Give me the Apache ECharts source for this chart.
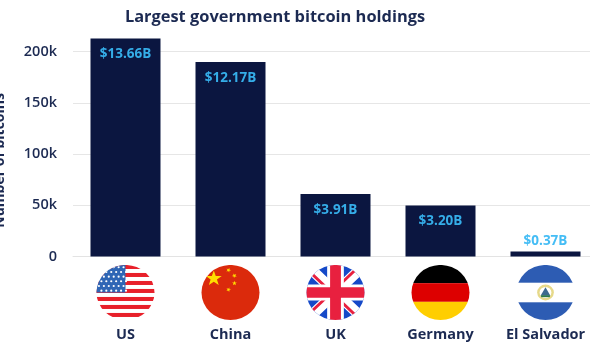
<!DOCTYPE html>
<html>
<head>
<meta charset="utf-8">
<script src="https://cdn.jsdelivr.net/npm/echarts@6/dist/echarts.min.js"></script>
<style>
html, body { margin: 0; padding: 0; background: #fff; overflow: hidden; }
#chart { width: 590px; height: 354px; }
</style>
</head>
<body>
<div id="chart"></div>
<script>
var categories = ['US', 'China', 'UK', 'Germany', 'El Salvador'];
var holdings = [212700, 189700, 61000, 49800, 5000];
var valueLabels = ['$13.66B', '$12.17B', '$3.91B', '$3.20B', '$0.37B'];
var yTickLabels = ['0', '50k', '100k', '150k', '200k'];

var navy = '#0b1640';
var textColor = '#1c2a52';

// small svg flags, used as backgrounds of the axis labels
function svgUrl(body) {
	var svg = '<svg xmlns="http://www.w3.org/2000/svg" xmlns:xlink="http://www.w3.org/1999/xlink" width="236" height="224" viewBox="0 0 60 60" preserveAspectRatio="none">' +
		'<defs><clipPath id="c"><circle cx="30" cy="30" r="29.5"/></clipPath></defs>' +
		'<g clip-path="url(#c)">' + body + '</g></svg>';
	return 'data:image/svg+xml;charset=utf-8,' + encodeURIComponent(svg);
}
function star(x, y, r, rot) {
	var pts = [];
	for (var i = 0; i < 10; i++) {
		var a = (rot + i * 36 - 90) * Math.PI / 180;
		var d = i % 2 ? r * 0.4 : r;
		pts.push((x + d * Math.cos(a)).toFixed(2) + ',' + (y + d * Math.sin(a)).toFixed(2));
	}
	return '<polygon fill="#ffde00" points="' + pts.join(' ') + '"/>';
}
function usFlag() {
	var s = '<rect width="60" height="60" fill="#fff"/>';
	for (var i = 0; i < 7; i++) {
		s += '<rect y="' + (i * 8.57 + 0.5) + '" width="60" height="4.3" fill="#e8202a"/>';
	}
	s += '<rect width="30" height="30" fill="#2f66b5"/>';
	for (var r = 0; r < 6; r++) {
		for (var c = 0; c < 6; c++) {
			s += '<circle cx="' + (3 + c * 5 + (r % 2) * 2.5) + '" cy="' + (3 + r * 5) + '" r="1.1" fill="#fff"/>';
		}
	}
	return s;
}
function cnFlag() {
	return '<rect width="60" height="60" fill="#db2a0c"/>' +
		star(13, 15, 8.5, 0) + star(28, 6, 2.6, 20) + star(34, 12, 2.6, 45) +
		star(34, 20, 2.6, 0) + star(28, 27, 2.6, 20);
}
function ukFlag() {
	return '<rect width="60" height="60" fill="#1549c8"/>' +
		'<path d="M0 0L60 60M60 0L0 60" stroke="#fff" stroke-width="11"/>' +
		'<path d="M0 4L60 64M60 -4L0 56" stroke="#e8203f" stroke-width="3"/>' +
		'<path d="M30 0V60M0 30H60" stroke="#fff" stroke-width="17"/>' +
		'<path d="M30 0V60M0 30H60" stroke="#e8203f" stroke-width="11"/>';
}
function deFlag() {
	return '<rect width="60" height="20" fill="#000"/>' +
		'<rect y="20" width="60" height="20" fill="#dd0000"/>' +
		'<rect y="40" width="60" height="20" fill="#ffce00"/>';
}
function svFlag() {
	return '<rect width="60" height="60" fill="#fff"/>' +
		'<rect width="60" height="19.5" fill="#2d5cb3"/>' +
		'<rect y="40.5" width="60" height="19.5" fill="#2d5cb3"/>' +
		'<circle cx="30" cy="30" r="8.5" fill="#e6d98a"/>' +
		'<circle cx="30" cy="30" r="6" fill="#fff"/>' +
		'<polygon points="30,24.5 35,33.5 25,33.5" fill="#3d6a8f"/>' +
		'<rect x="25.5" y="33" width="9" height="2" fill="#2f7a4a"/>';
}
var flagImages = [svgUrl(usFlag()), svgUrl(cnFlag()), svgUrl(ukFlag()), svgUrl(deFlag()), svgUrl(svFlag())];

var richStyles = {
	name: { color: textColor, fontFamily: 'Open Sans', fontWeight: 'bold', fontSize: 14.5, height: 20, lineHeight: 20, padding: [9, 0, 0, 0] }
};
for (var i = 0; i < flagImages.length; i++) {
	richStyles['flag' + i] = { width: 59, height: 56, backgroundColor: { image: flagImages[i] } };
}

var barData = [];
for (var j = 0; j < holdings.length; j++) {
	barData.push({
		value: holdings[j],
		label: {
			show: true,
			formatter: valueLabels[j],
			position: holdings[j] < 20000 ? 'top' : 'insideTop',
			distance: holdings[j] < 20000 ? 3 : 9,
			color: holdings[j] < 20000 ? '#45bdf5' : '#35ade8',
			fontFamily: 'Open Sans',
			fontWeight: 'bold',
			fontSize: 13.5
		}
	});
}

var mycharts = echarts.init(document.getElementById('chart'));
mycharts.setOption({
	animation: false,
	backgroundColor: '#fff',
	title: {
		text: 'Largest government bitcoin holdings',
		left: 270,
		top: 4,
		textAlign: 'center',
		textStyle: { color: textColor, fontFamily: 'Open Sans', fontWeight: 'bold', fontSize: 16.4 }
	},
	grid: { left: 73, right: -8, top: 0.25, bottom: 97.5, outerBoundsMode: 'none' },
	xAxis: {
		type: 'category',
		data: categories,
		axisLine: { lineStyle: { color: '#e3e3e3', width: 1 } },
		axisTick: { show: false },
		axisLabel: {
			interval: 0,
			margin: 8,
			hideOverlap: false,
			formatter: function (value, index) {
				return '{flag' + index + '|}\n{name|' + value + '}';
			},
			rich: richStyles
		}
	},
	yAxis: {
		type: 'value',
		min: 0,
		max: 250000,
		interval: 50000,
		name: 'Number of bitcoins',
		nameLocation: 'middle',
		nameGap: 66,
		nameRotate: 90,
		nameTextStyle: { color: textColor, fontFamily: 'Open Sans', fontWeight: 'bold', fontSize: 14, padding: [0, 64, 0, 0] },
		axisLine: { show: false },
		axisTick: { show: false },
		splitLine: { showMaxLine: false, lineStyle: { color: '#e6e6e6', width: 1 } },
		axisLabel: {
			color: textColor,
			fontFamily: 'Open Sans',
			fontWeight: 600,
			fontSize: 14.5,
			margin: 16,
			showMaxLabel: false,
			formatter: function (v, index) {
				return yTickLabels[index];
			}
		}
	},
	series: [{
		type: 'bar',
		data: barData,
		barWidth: 70,
		itemStyle: { color: navy }
	}]
});
mycharts.resize();
</script>
</body>
</html>
